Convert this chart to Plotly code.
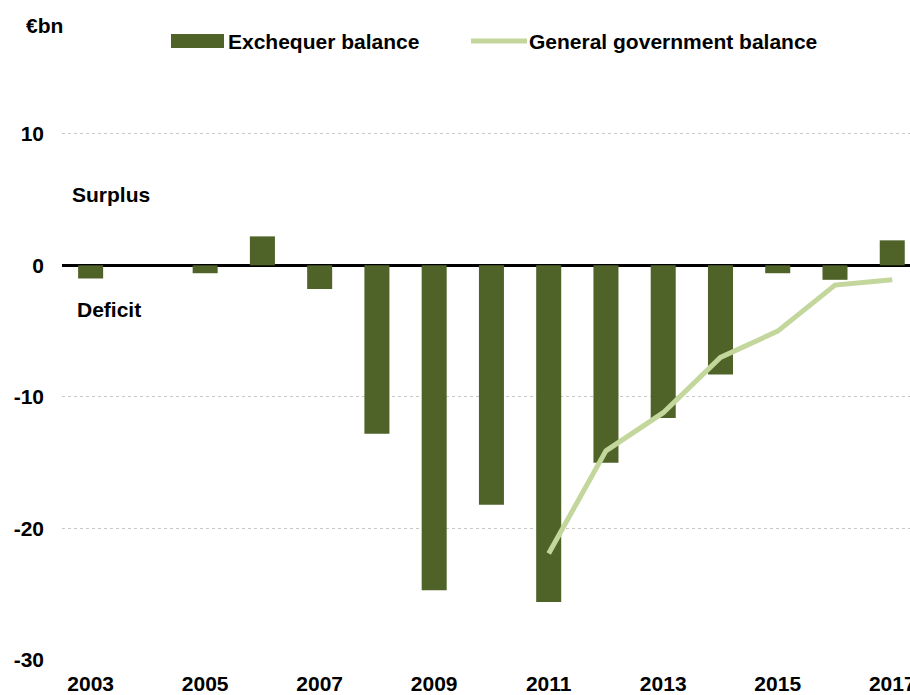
import plotly.graph_objects as go

years = [str(y) for y in range(2003, 2018)]
exchequer = [-1.0, None, -0.6, 2.2, -1.8, -12.8, -24.7, -18.2, -25.6, -15.0, -11.6, -8.3, -0.6, -1.1, 1.9]
gg_years = [str(y) for y in range(2011, 2018)]
gg_balance = [-21.9, -14.1, -11.2, -7.0, -5.0, -1.5, -1.1]
tick_years = ["2003", "2005", "2007", "2009", "2011", "2013", "2015", "2017"]
y_ticks = [-30, -20, -10, 0, 10]
y_ticktext = ["-30", "-20", "-10", "0", "10"]

BAR = "#4F6228"
LINE = "#C3D69B"
FONT = "Liberation Sans, Arial, sans-serif"
FS = 21

T, B = 68, 660  # plot area top/bottom in pixels
L, W = 62, 848

fig = go.Figure()
fig.add_trace(go.Bar(x=years, y=exchequer, marker_color=BAR, marker_line_width=0,
                     name="Exchequer balance", showlegend=False))
fig.add_trace(go.Scatter(x=gg_years, y=gg_balance, mode="lines",
                         line=dict(color=LINE, width=5), name="General government balance",
                         showlegend=False))

fig.update_layout(
    width=910, height=695,
    margin=dict(l=L, r=0, t=T, b=695 - B),
    paper_bgcolor="white", plot_bgcolor="white",
    bargap=0.563,
    font=dict(family=FONT, size=FS, color="black"),
    xaxis=dict(type="category", categoryorder="array", categoryarray=years,
               range=[-0.5, 14.31], tickmode="array", tickvals=tick_years,
               ticktext=tick_years, showgrid=False, ticks="", showline=False,
               zeroline=False, automargin=False, ticklabelstandoff=9,
               tickfont=dict(family=FONT, size=FS, color="black", weight="bold")),
    yaxis=dict(range=[-30, 15], tickmode="array", tickvals=y_ticks, ticktext=y_ticktext,
               showgrid=True, gridcolor="#C8C8C8", griddash="dot", gridwidth=1,
               zeroline=True, zerolinecolor="black", zerolinewidth=3,
               ticks="", automargin=False, ticklabelstandoff=17,
               tickfont=dict(family=FONT, size=FS, color="black", weight="bold")),
)

def px_x(px):
    return (px - L) / W

def px_y(py):
    return (B - py) / (B - T)

# Legend drawn manually
fig.add_shape(type="rect", xref="paper", yref="paper",
              x0=px_x(171), x1=px_x(224), y0=px_y(48), y1=px_y(34),
              fillcolor=BAR, line_width=0)
fig.add_shape(type="line", xref="paper", yref="paper",
              x0=px_x(471), x1=px_x(527), y0=px_y(41), y1=px_y(41),
              line=dict(color=LINE, width=5))

def ann(text, px, py, anchor="left"):
    fig.add_annotation(text=text, xref="paper", yref="paper",
                       x=px_x(px), y=px_y(py),
                       xanchor=anchor, yanchor="middle", showarrow=False,
                       font=dict(family=FONT, size=FS, color="black", weight="bold"))

ann("Exchequer balance", 226, 41)
ann("General government balance", 527, 41)
ann("€bn", 24, 25)
ann("Surplus", 70, 195)
ann("Deficit", 75, 309)

fig.write_html("out.html")
